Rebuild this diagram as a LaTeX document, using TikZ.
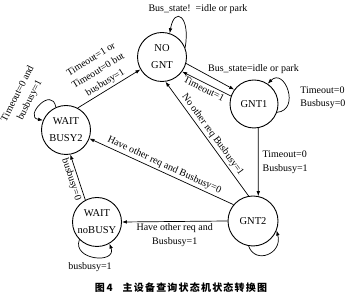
\documentclass[tikz,border=0pt]{standalone}
\usepackage{fontspec}
\setmainfont{Liberation Serif}
\newfontfamily\cjk{Noto Sans CJK SC}[LetterSpace=12]
\usetikzlibrary{arrows.meta,positioning,calc}

\begin{document}
\begin{tikzpicture}[x=1pt,y=1pt,line width=.7pt,>={Latex[length=5pt,width=3.6pt]},
  state/.style={circle,draw,line width=.9pt,minimum size=49pt,inner sep=0pt,align=center,font=\fontsize{10.5}{17}\selectfont},
  lbl/.style={font=\fontsize{10}{13.5}\selectfont,inner sep=2pt,align=center}]
\useasboundingbox (0,0) rectangle (350,296);
% states
\node[state] (nogn) at (162,239) {NO\\GNT};
\node[state,minimum size=48pt] (gnt1) at (254,192) {GNT1};
\node[state,minimum size=50pt] (gnt2) at (253,75) {GNT2};
\node[state] (wb2) at (66,166) {WAIT\\BUSY2};
\node[state] (wnb) at (97,74) {WAIT\\noBUSY};
% self loops
\draw[->] (nogn.22) .. controls +(80:32) and +(80:28) .. (nogn.72);
\node[lbl] (lnogn) at (198,287) {Bus\_state!\ \ =idle or park};
\draw[->] (gnt1.-20) .. controls +(5:24) and +(45:24) .. (gnt1.56);
\node[lbl,anchor=west,align=left] (lgnt1) at (298,198) {Timeout=0\\Busbusy=0};
\draw[->] (gnt2.-100) .. controls +(-70:20) and +(-75:24) .. (gnt2.-22);
\draw[->] (wnb.225) .. controls +(250:22) and +(-70:22) .. (wnb.-60);
\node[lbl] (lwnb) at (90,29) {busbusy=1};
\draw[->] (wb2.114) .. controls +(100:22) and +(170:20) .. (wb2.157);
\node[lbl,rotate=63] (lwb2) at (24,199) {Timeout=0 and\\busbusy=1};
% transitions
\draw[->] (nogn.-15) -- node[lbl,pos=.43,anchor=south west,inner sep=1pt] {Bus\_state=idle or park} (gnt1.144);
\draw[->] (gnt1.161) -- node[lbl,sloped,below] {Timeout=1} (nogn.-36);
\draw[->] (gnt1.-80) -- node[lbl,right,align=left,inner sep=4pt] {Timeout=0\\Busbusy=1} (gnt2.78);
\draw[->] (gnt2.100) -- node[lbl,sloped,above] {No other req Busbusy=1} (nogn.-82);
\draw[->] (gnt2.140) -- node[lbl,sloped,above] {Have other req and Busbusy=0} (wb2.-20);
\draw[->] (gnt2.180) -- node[lbl,below] {Have other req and\\Busbusy=1} (wnb.0);
\draw[->] (wnb.118) -- node[lbl,sloped,below] {busbusy=0} (wb2.-80);
\draw[->] (wb2.62) -- node[lbl,sloped,above] {Timeout=1 or\\Timeout=0 but\\busbusy=1} (nogn.210);
% caption
\node[font=\cjk\bfseries\fontsize{10}{12}\selectfont] (cap) at (181,8) {图\,4\quad 主设备查询状态机状态转换图};
\end{tikzpicture}
\end{document}
